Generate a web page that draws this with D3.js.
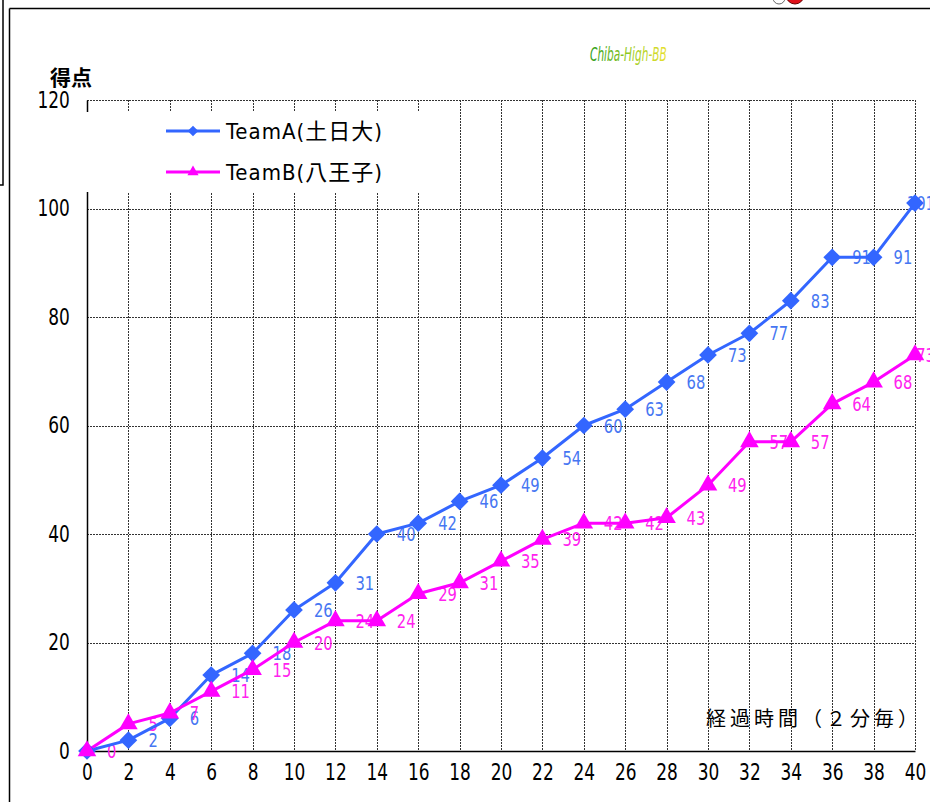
<!DOCTYPE html>
<html><head><meta charset="utf-8">
<script src="https://cdn.jsdelivr.net/npm/d3@7/dist/d3.min.js"></script>
<style>
html,body{margin:0;padding:0;background:#fff;overflow:hidden}
svg{display:block}
.num{font-family:"Liberation Sans Narrow","DejaVu Sans Condensed","Noto Sans CJK JP",sans-serif}
.jp{font-family:"Noto Sans CJK JP","Noto Sans CJK SC",sans-serif}
</style></head>
<body>
<script>
const times = [0,2,4,6,8,10,12,14,16,18,20,22,24,26,28,30,32,34,36,38,40];
const teamA = [0,2,6,14,18,26,31,40,42,46,49,54,60,63,68,73,77,83,91,91,101];
const teamB = [0,5,7,11,15,20,24,24,29,31,35,39,42,42,43,49,57,57,64,68,73];
const seriesNames = ["TeamA(土日大)","TeamB(八王子)"];
const yTicks = [0,20,40,60,80,100,120];
const xTicks = times;

const W=930,H=802;
const svg=d3.select("body").append("svg").attr("width",W).attr("height",H);
const x=d3.scaleLinear().domain([0,40]).range([87,915]);
const y=d3.scaleLinear().domain([0,120]).range([751,100]);
const SX=0.82;

// outer frame
svg.append("rect").attr("x",-5).attr("y",-5).attr("width",8).attr("height",190).attr("fill","none").attr("stroke","#000").attr("stroke-width",1.5);
svg.append("line").attr("x1",9.5).attr("x2",W).attr("y1",8.5).attr("y2",8.5).attr("stroke","#000").attr("stroke-width",1.5);
svg.append("line").attr("x1",9.5).attr("x2",9.5).attr("y1",8.5).attr("y2",H).attr("stroke","#000").attr("stroke-width",1.5);
// top icon fragments
svg.append("circle").attr("cx",779).attr("cy",-2).attr("r",6).attr("fill","none").attr("stroke","#666").attr("stroke-width",1);
svg.append("circle").attr("cx",795).attr("cy",-5).attr("r",9).attr("fill","#e0101a").attr("stroke","#600").attr("stroke-width",1);

// watermark
const defs=svg.append("defs");
const g1=defs.append("linearGradient").attr("id","wm").attr("x1","0%").attr("x2","100%");
g1.append("stop").attr("offset","0%").attr("stop-color","#2e9e1e");
g1.append("stop").attr("offset","55%").attr("stop-color","#9ccc22");
g1.append("stop").attr("offset","100%").attr("stop-color","#e8e030");
svg.append("text").attr("transform","translate(590,61) scale(0.62,1)").attr("fill","url(#wm)")
  .attr("font-family","'DejaVu Sans Condensed',sans-serif")
  .attr("font-style","italic").attr("font-size",19).text("Chiba-High-BB");

// gridlines
const grid=svg.append("g").attr("stroke","#333").attr("stroke-width",1).attr("stroke-dasharray","2,1");
grid.selectAll(".vg").data(xTicks.filter(d=>d>0)).join("line")
  .attr("x1",d=>Math.round(x(d))+0.5).attr("x2",d=>Math.round(x(d))+0.5).attr("y1",y(120)).attr("y2",y(0));
grid.selectAll(".hg").data(yTicks.filter(d=>d>0)).join("line")
  .attr("x1",x(0)).attr("x2",x(40)).attr("y1",d=>Math.round(y(d))+0.5).attr("y2",d=>Math.round(y(d))+0.5);

// axes
const ax=svg.append("g").attr("transform",`translate(0,${y(0)})`).call(d3.axisBottom(x).tickValues(xTicks).tickSize(0).tickPadding(13).tickFormat(d3.format("d")));
ax.select(".domain").attr("stroke","#000").attr("stroke-width",1.5);
ax.selectAll("text").attr("class","num").attr("font-size",23).attr("fill","#000").attr("transform",`scale(${SX},1)`);
const ay=svg.append("g").attr("transform",`translate(${x(0)},0)`).call(d3.axisLeft(y).tickValues(yTicks).tickSize(0).tickPadding(21));
ay.select(".domain").attr("stroke","#000").attr("stroke-width",1.5);
ay.selectAll("text").attr("class","num").attr("font-size",23).attr("fill","#000").attr("transform",`scale(${SX},1)`);

// axis titles
svg.append("text").attr("class","jp").attr("x",50).attr("y",85).attr("font-size",21).attr("font-weight","bold").attr("fill","#000").text("得点");
svg.append("text").attr("class","jp").attr("x",706).attr("y",726).attr("font-size",20).attr("letter-spacing",4).attr("fill","#000").text("経過時間（２分毎）");

// legend box (covers gridlines)
svg.append("rect").attr("x",84).attr("y",112).attr("width",346).attr("height",80).attr("fill","#fff");

const colA="#3366ff", colB="#ff00ff";
const labA="#4676f2", labB="#ff22ee";
const line=d3.line().x((d,i)=>x(times[i])).y(d=>y(d));
const diamond=d3.symbol().type(d3.symbolDiamond2 || d3.symbolDiamond).size(200);
const tri=d3.symbol().type(d3.symbolTriangle).size(150);

const labelLayer=svg.append("g");
const lineLayer=svg.append("g");
const markLayer=svg.append("g");

function series(vals,col,sym){
  lineLayer.append("path").datum(vals).attr("d",line).attr("fill","none").attr("stroke",col).attr("stroke-width",3).attr("stroke-linejoin","round");
  markLayer.append("g").selectAll("path").data(vals).join("path").attr("d",sym)
    .attr("transform",(d,i)=>`translate(${x(times[i])},${y(d)})`).attr("fill",col);
}
function labels(vals,lab,skipFirst){
  labelLayer.append("g").selectAll("text").data(vals.map((v,i)=>({v,i})).filter(d=>!(skipFirst&&d.i===0))).join("text")
    .attr("class","num")
    .attr("font-size",20).attr("fill",lab).text(d=>d.v)
    .attr("transform",function(d){
      const w=this.getComputedTextLength()*SX;
      const px=Math.min(x(times[d.i])+20, 935-w);
      return `translate(${px},${y(d.v)+7}) scale(${SX},1)`;
    });
}
series(teamA,colA,diamond);
series(teamB,colB,tri);
labels(teamA,labA,true);
labels(teamB,labB,false);

// legend
const leg=[{n:seriesNames[0],c:colA,s:diamond,y:131},{n:seriesNames[1],c:colB,s:tri,y:172}];
leg.forEach(l=>{
  svg.append("line").attr("x1",166).attr("x2",220).attr("y1",l.y).attr("y2",l.y).attr("stroke",l.c).attr("stroke-width",3);
  svg.append("path").attr("d",l.s).attr("transform",`translate(193,${l.y}) scale(0.6)`).attr("fill",l.c);
  svg.append("text").attr("class","num").attr("x",226).attr("y",l.y+8).attr("font-size",22).attr("fill","#000").attr("letter-spacing",1).text(l.n);
});
</script>
</body></html>
